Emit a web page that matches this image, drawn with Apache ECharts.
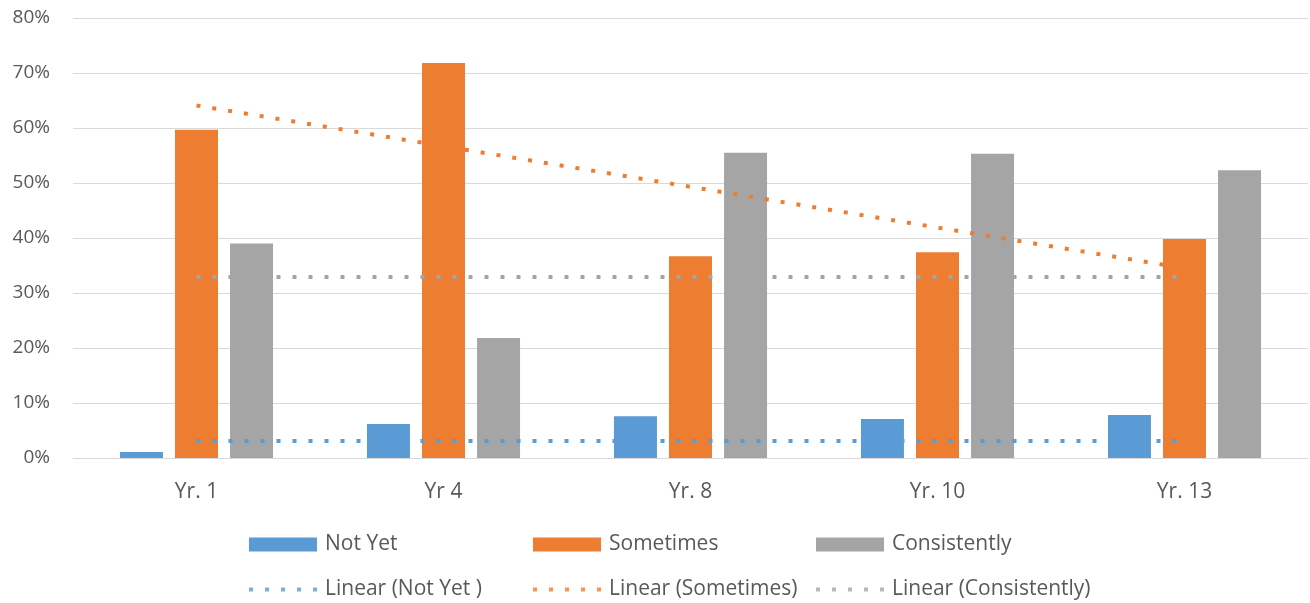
<!DOCTYPE html>
<html><head><meta charset="utf-8">
<script src="https://cdn.jsdelivr.net/npm/echarts@6/dist/echarts.min.js"></script>
<style>html,body{margin:0;padding:0;background:#fff}#c{width:1310px;height:603px}</style>
</head><body><div id="c"></div>
<script>
const categories = ['Yr. 1', 'Yr 4', 'Yr. 8', 'Yr. 10', 'Yr. 13'];
const notYet = [1.1, 6.2, 7.6, 7.1, 7.8];
const sometimes = [59.7, 71.8, 36.7, 37.4, 39.8];
const consistently = [39.0, 21.8, 55.5, 55.3, 52.3];
const trendNotYet = [3.1, 3.1, 3.1, 3.1, 3.1];
const trendSometimes = [64.1, 56.7, 49.3, 41.9, 34.5];
const trendConsistently = [32.9, 32.9, 32.9, 32.9, 32.9];
const yTicks = [0, 10, 20, 30, 40, 50, 60, 70, 80];

const FONT = 'Open Sans';
const TXT = '#595959';
const BLUE = '#5B9BD5', ORANGE = '#ED7D31', GRAY = '#A5A5A5';
const DOTS = 'path://M0,0h4v4h-4z M16,0h4v4h-4z M32,0h4v4h-4z M48,0h4v4h-4z M64,0h4v4h-4z';

const chart = echarts.init(document.getElementById('c'), null, {renderer: 'canvas'});

function bar(name, data, color) {
  return {name, type: 'bar', data, barWidth: 43, barGap: '28%',
    itemStyle: {color}, z: 2};
}
function trend(name, data, color) {
  return {name, type: 'line', data, symbol: 'none', z: 5, silent: true,
    lineStyle: {color, width: 4, type: [4, 12], cap: 'butt'},
    itemStyle: {color}};
}
// empty series that only carries the legend swatch for a trend line
function legendCarrier(name, color) {
  return {name, type: 'scatter', data: [], itemStyle: {color}, silent: true};
}
function leg(name, color, left, top, dotted) {
  return {
    data: [{name, icon: dotted ? DOTS : 'rect', itemStyle: {color}}],
    left, top, itemWidth: 68, itemHeight: dotted ? 4 : 14, itemGap: 0,
    textStyle: {fontFamily: FONT, fontSize: 21, color: TXT, padding: [0, 0, 0, 3]},
    selectedMode: false, padding: 0
  };
}

chart.setOption({
  animation: false,
  textStyle: {fontFamily: FONT},
  grid: {left: 73, right: 2, top: 18, bottom: 145},
  legend: [
    leg('Not Yet', BLUE, 249, 534, false),
    leg('Sometimes', ORANGE, 533, 534, false),
    leg('Consistently', GRAY, 816, 534, false),
    leg('Linear (Not Yet )', BLUE, 249, 579, true),
    leg('Linear (Sometimes)', ORANGE, 533, 579, true),
    leg('Linear (Consistently)', GRAY, 816, 579, true)
  ],
  xAxis: {
    type: 'category', data: categories,
    axisLine: {show: true, lineStyle: {color: '#D9D9D9', width: 1}},
    axisTick: {show: false},
    axisLabel: {fontFamily: FONT, fontSize: 21, color: TXT, margin: 24}
  },
  yAxis: {
    type: 'value', min: 0, max: 80, interval: 10,
    axisLine: {show: false}, axisTick: {show: false},
    splitLine: {lineStyle: {color: '#D9D9D9', width: 1}},
    axisLabel: {fontFamily: FONT, fontSize: 19, color: TXT, margin: 23,
      formatter: v => yTicks.includes(v) ? v + '%' : ''}
  },
  series: [
    bar('Not Yet', notYet, BLUE),
    bar('Sometimes', sometimes, ORANGE),
    bar('Consistently', consistently, GRAY),
    legendCarrier('Linear (Not Yet )', BLUE),
    legendCarrier('Linear (Sometimes)', ORANGE),
    legendCarrier('Linear (Consistently)', GRAY),
    trend('Linear (Not Yet )', trendNotYet, BLUE),
    trend('Linear (Sometimes)', trendSometimes, ORANGE),
    trend('Linear (Consistently)', trendConsistently, GRAY)
  ]
});
</script></body></html>
